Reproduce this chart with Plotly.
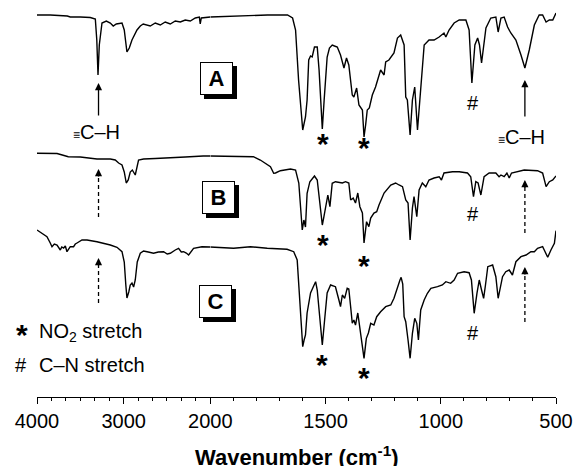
import plotly.graph_objects as go

# ---------------- data (wavenumber in cm-1, offset transmittance in arbitrary units) ----------------
wn_A = [4000, 3847, 3650, 3616, 3500, 3385, 3327, 3310, 3296, 3281, 3250, 3200, 3154, 3120, 3085, 3019,
        2993, 2962, 2935, 2904, 2846, 2808, 2774, 2693, 2635, 2577, 2520, 2462, 2404, 2346, 2289, 2231,
        2173, 2127, 2116, 2104, 2000,
        1900, 1826, 1752, 1665, 1643, 1630, 1617, 1599, 1591, 1587, 1580, 1573, 1565, 1558, 1548, 1536,
        1528, 1522, 1514, 1506, 1493, 1483, 1471, 1461, 1449, 1435, 1420, 1409, 1399, 1384, 1377, 1365,
        1355, 1340, 1333, 1326, 1319, 1310, 1297, 1283, 1268, 1261, 1246, 1239, 1225, 1217, 1203, 1188,
        1174, 1159, 1152, 1145, 1133, 1123, 1113, 1101, 1087, 1072, 1051, 1029, 1007, 995, 986, 978,
        964, 942, 920, 891, 877, 865, 852, 840, 832, 823, 813, 804, 783, 761, 751, 739, 725, 710, 696,
        674, 652, 635, 616, 594, 573, 558, 543, 529, 514, 500]
T_A = [382, 382, 381, 380, 380, 379.5, 378, 357, 322, 352, 374, 376, 374, 371, 373, 374,
       367, 345, 349, 357, 367, 371, 373, 371, 374, 372, 375, 373, 376, 375, 377, 376,
       379, 380, 373, 379, 380,
       381, 382, 382, 382, 379, 367, 317, 267, 277, 280, 297, 337, 341, 340, 350, 350,
       327, 297, 268, 297, 340, 349, 352, 351, 350, 342, 329, 339, 332, 302, 300, 309,
       292, 287, 260, 272, 287, 289, 302, 310, 322, 327, 322, 335, 337, 340, 344, 359,
       362, 352, 300, 297, 262, 297, 310, 267, 312, 352, 357, 357, 360, 362, 364, 360,
       367, 374, 377, 377, 367, 314, 352, 359, 352, 334, 352, 369, 379, 380, 365, 379, 380, 370, 364,
       357, 342, 329, 347, 372, 382, 382, 375, 377, 377, 384]

wn_B = [4000, 3769, 3708, 3639, 3500, 3308, 3154, 3097, 3058, 3019, 2993, 2970, 2947, 2924, 2900, 2866,
        2828, 2770, 2635, 2462, 2289, 2082, 2000,
        1884, 1813, 1783, 1753, 1739, 1725, 1717, 1696, 1652, 1630, 1616, 1601, 1594, 1587, 1580, 1568,
        1558, 1548, 1536, 1525, 1514, 1507, 1496, 1490, 1481, 1471, 1457, 1427, 1413, 1399, 1391, 1380,
        1370, 1360, 1351, 1340, 1333, 1322, 1312, 1304, 1290, 1278, 1268, 1246, 1217, 1196, 1181, 1166,
        1152, 1142, 1133, 1123, 1116, 1104, 1094, 1080, 1065, 1051, 1029, 1007, 997, 986, 949, 920, 884,
        870, 858, 848, 838, 826, 812, 790, 761, 747, 739, 725, 713, 703, 693, 674, 638, 580, 558, 543,
        529, 514, 500]
T_B = [243.7, 243.5, 242, 240.3, 240, 238, 238, 237, 234, 232, 225, 214, 217, 225, 227, 222,
       237, 238, 238.5, 239, 240, 241, 241,
       241, 240.3, 237, 233, 230.3, 223.7, 224, 226.3, 228, 227, 214, 167, 177, 170, 203.7, 215.3,
       218.7, 221, 217, 194, 172, 180.3, 197, 202, 190.3, 213.7, 215.3, 214, 215.3, 214, 197, 199,
       194, 204, 190.3, 184, 154, 175.3, 170.3, 179, 184, 185.3, 192, 204, 212, 214, 212, 210.3,
       197, 194, 157, 189, 200.3, 180.3, 207, 214, 210.3, 217, 219, 220.3, 217, 224, 225.3, 225.3, 224,
       220.3, 200.3, 215.3, 214, 202, 220.3, 224, 224, 220.3, 222, 220.3, 224, 219, 224, 225.3, 227, 226.3, 224, 210.3,
       215.3, 217, 221]

wn_C = [4000, 3962, 3885, 3847, 3827, 3800, 3769, 3731, 3714, 3693, 3673, 3654, 3616, 3578, 3558, 3538,
        3481, 3423, 3308, 3154, 3077, 3019, 2993, 2975, 2962, 2941, 2924, 2904, 2885, 2866, 2843, 2808,
        2770, 2716, 2655, 2600, 2539, 2497, 2462, 2404, 2366, 2335, 2308, 2277, 2250, 2193, 2096, 2000,
        1957, 1899, 1826, 1753, 1667, 1638, 1623, 1615, 1609, 1601, 1599, 1593, 1587, 1580, 1572, 1565,
        1553, 1543, 1536, 1525, 1514, 1504, 1493, 1478, 1457, 1442, 1435, 1427, 1417, 1406, 1399, 1391,
        1384, 1377, 1370, 1360, 1351, 1344, 1333, 1323, 1314, 1304, 1290, 1278, 1261, 1239, 1217, 1203,
        1188, 1177, 1172, 1165, 1159, 1152, 1142, 1133, 1123, 1113, 1104, 1097, 1087, 1072, 1058, 1043,
        1014, 993, 978, 957, 942, 927, 899, 877, 867, 855, 843, 833, 823, 814, 806, 796, 775, 761, 751,
        739, 732, 718, 703, 689, 674, 652, 630, 609, 594, 580, 558, 551, 536, 522, 507, 500]
T_C = [167, 165, 160.3, 154, 150.3, 153, 152, 147, 150, 149, 151, 145.3, 150.3, 150.3, 153, 154,
       157, 157, 155.3, 152, 149.7, 145.3, 135, 112, 99, 105, 112, 114, 110, 117, 135, 143.7,
       146, 145, 143.7, 145, 145.3, 143, 143.7, 147, 148.7, 145, 145.3, 144, 142, 148.7, 150.3, 150,
       149.7, 148.7, 150.3, 148.7, 147.7, 145.3, 137, 107, 77, 57, 50.3, 57, 62, 84, 97, 104,
       110.3, 115.3, 107, 77, 52, 77, 104, 112, 110.3, 97, 90.3, 102, 98.7, 108.7, 108, 90.3,
       73.7, 77, 72, 84, 68.7, 57, 38.7, 58.7, 64, 73.7, 72, 80.3, 85.3, 90.3, 92, 98.7,
       110.3, 117, 119.7, 113, 80.3, 75.3, 57, 38.7, 63.7, 78.7, 73.7, 57, 87, 97, 103.7, 108.7,
       110.3, 112, 115.3, 113.7, 117, 123.7, 125.3, 124.3, 117, 83.7, 103.7, 117, 107, 98.7, 112, 130.3, 132, 120.3, 98.7,
       113.7, 120.3, 125.3, 127, 122, 135.3, 140.3, 142, 145.3, 145.3, 148.7, 150.3, 147, 139.7, 147, 153.7, 166.3]

spectra = [("A", wn_A, T_A), ("B", wn_B, T_B), ("C", wn_C, T_C)]

# panel labels: (text, wavenumber, level)
panel_labels = [("A", 1974, 319), ("B", 1965, 200), ("C", 1976, 96)]
# NO2 star marks: (wavenumber, level)
stars = [(1512, 256), (1332, 252), (1512, 155), (1334, 134), (1514, 35), (1333, 22)]
# C-N hash marks
hashes = [(858, 294), (858, 183), (858, 64)]
# solid arrows (A): (wavenumber, tail level, tip level)
solid_arrows = [(3290, 280, 314), (635, 279, 317)]
# dashed arrows (B, C)
dashed_arrows = [(3290, 180, 228), (635, 164, 217), (3290, 94, 139), (635, 75, 130)]
# C-H labels
ch_labels = [(3318, 265), (650, 260)]

FONT = "Arial, Liberation Sans, Helvetica, sans-serif"
BLACK = "#000000"

fig = go.Figure()

for name, wn, T in spectra:
    left = [(w, t) for w, t in zip(wn, T) if w >= 2000]
    right = [(w, t) for w, t in zip(wn, T) if w <= 2000]
    fig.add_trace(go.Scatter(x=[p[0] for p in left], y=[p[1] for p in left], xaxis="x", yaxis="y",
                             mode="lines", line=dict(color=BLACK, width=1.4), showlegend=False,
                             hoverinfo="skip"))
    fig.add_trace(go.Scatter(x=[p[0] for p in right], y=[p[1] for p in right], xaxis="x2", yaxis="y",
                             mode="lines", line=dict(color=BLACK, width=1.4), showlegend=False,
                             hoverinfo="skip"))

ann = []
shapes = []

def xr(w):
    return "x" if w >= 2000 else "x2"

for txt, w, lv in panel_labels:
    # shadow
    ann.append(dict(x=w, y=lv, xref=xr(w), yref="y", text="<b>%s</b>" % txt, showarrow=False,
                    font=dict(family=FONT, size=22, color=BLACK), bgcolor=BLACK, bordercolor=BLACK,
                    borderwidth=1, borderpad=0, width=31, height=31, xshift=4, yshift=-4))
    ann.append(dict(x=w, y=lv, xref=xr(w), yref="y", text="<b>%s</b>" % txt, showarrow=False,
                    font=dict(family=FONT, size=22, color=BLACK), bgcolor="white", bordercolor=BLACK,
                    borderwidth=1, borderpad=0, width=31, height=31))

for w, lv in stars:
    ann.append(dict(x=w, y=lv, xref=xr(w), yref="y", text="<b>*</b>", showarrow=False,
                    font=dict(family=FONT, size=30, color=BLACK), yshift=-2))

for w, lv in hashes:
    ann.append(dict(x=w, y=lv, xref=xr(w), yref="y", text="#", showarrow=False,
                    font=dict(family=FONT, size=20, color=BLACK)))

for w, tail, tip in solid_arrows:
    ann.append(dict(x=w, y=tip, ax=w, ay=tail, xref=xr(w), yref="y", axref=xr(w), ayref="y",
                    text="", showarrow=True, arrowhead=2, arrowsize=1.1, arrowwidth=1.3,
                    arrowcolor=BLACK))

for w, tail, tip in dashed_arrows:
    shapes.append(dict(type="line", xref=xr(w), yref="y", x0=w, x1=w, y0=tail, y1=tip - 6,
                       line=dict(color=BLACK, width=1.3, dash="4px,3px")))
    ann.append(dict(x=w, y=tip, xref=xr(w), yref="y", ax=0, ay=9, text="", showarrow=True,
                    arrowhead=2, arrowsize=1.1, arrowwidth=1.3, arrowcolor=BLACK))

for w, lv in ch_labels:
    ann.append(dict(x=w, y=lv, xref=xr(w), yref="y", showarrow=False,
                    text="<span style='font-size:12px'>≡</span>C–H",
                    font=dict(family=FONT, size=20, color=BLACK)))

# legend-like notes
ann.append(dict(x=4000, y=65, xref="x", yref="y", xanchor="left", showarrow=False,
                text="NO<sub>2</sub> stretch", font=dict(family=FONT, size=20, color=BLACK)))
ann.append(dict(x=4000, y=65, xref="x", yref="y", xanchor="center", xshift=-15, yshift=-2, showarrow=False,
                text="<b>*</b>", font=dict(family=FONT, size=30, color=BLACK)))
ann.append(dict(x=4000, y=32, xref="x", yref="y", xanchor="left", showarrow=False,
                text="C–N stretch", font=dict(family=FONT, size=20, color=BLACK)))
ann.append(dict(x=4000, y=32, xref="x", yref="y", xanchor="center", xshift=-16, showarrow=False,
                text="#", font=dict(family=FONT, size=20, color=BLACK)))

# axis title
ann.append(dict(x=0.5, y=-0.148, xref="paper", yref="paper", showarrow=False, yanchor="middle",
                text="<b>Wavenumber (cm<sup>-1</sup>)</b>", font=dict(family=FONT, size=22, color=BLACK)))

split = 173.3 / 519.0
common = dict(showline=True, linecolor=BLACK, linewidth=1.2, ticks="outside", ticklen=6, tickwidth=1.2,
              tickcolor=BLACK, showgrid=False, zeroline=False, anchor="y",
              tickfont=dict(family=FONT, size=20, color=BLACK))
fig.update_layout(
    width=574, height=466,
    margin=dict(l=37, r=18, t=0, b=69),
    paper_bgcolor="white", plot_bgcolor="white",
    hovermode=False,
    xaxis=dict(domain=[0, split], range=[4000, 2000], tickvals=[4000, 3000], ticktext=["4000", "3000"],
               minor=dict(dtick=1000 / 6, tick0=0, ticks="outside", ticklen=3, tickwidth=1.2, tickcolor=BLACK),
               **common),
    xaxis2=dict(domain=[split, 1], range=[2000, 500], tickvals=[2000, 1500, 1000, 500],
                ticktext=["2000", "1500", "1000", "500"],
                minor=dict(dtick=100, tick0=0, ticks="outside", ticklen=3, tickwidth=1.2, tickcolor=BLACK),
                **common),
    yaxis=dict(range=[0, 397], visible=False, domain=[0, 1]),
    annotations=ann, shapes=shapes,
)

fig.write_html("out.html", config={"displayModeBar": False},
               post_script="document.body.style.margin='0px';document.body.style.padding='0px';")
